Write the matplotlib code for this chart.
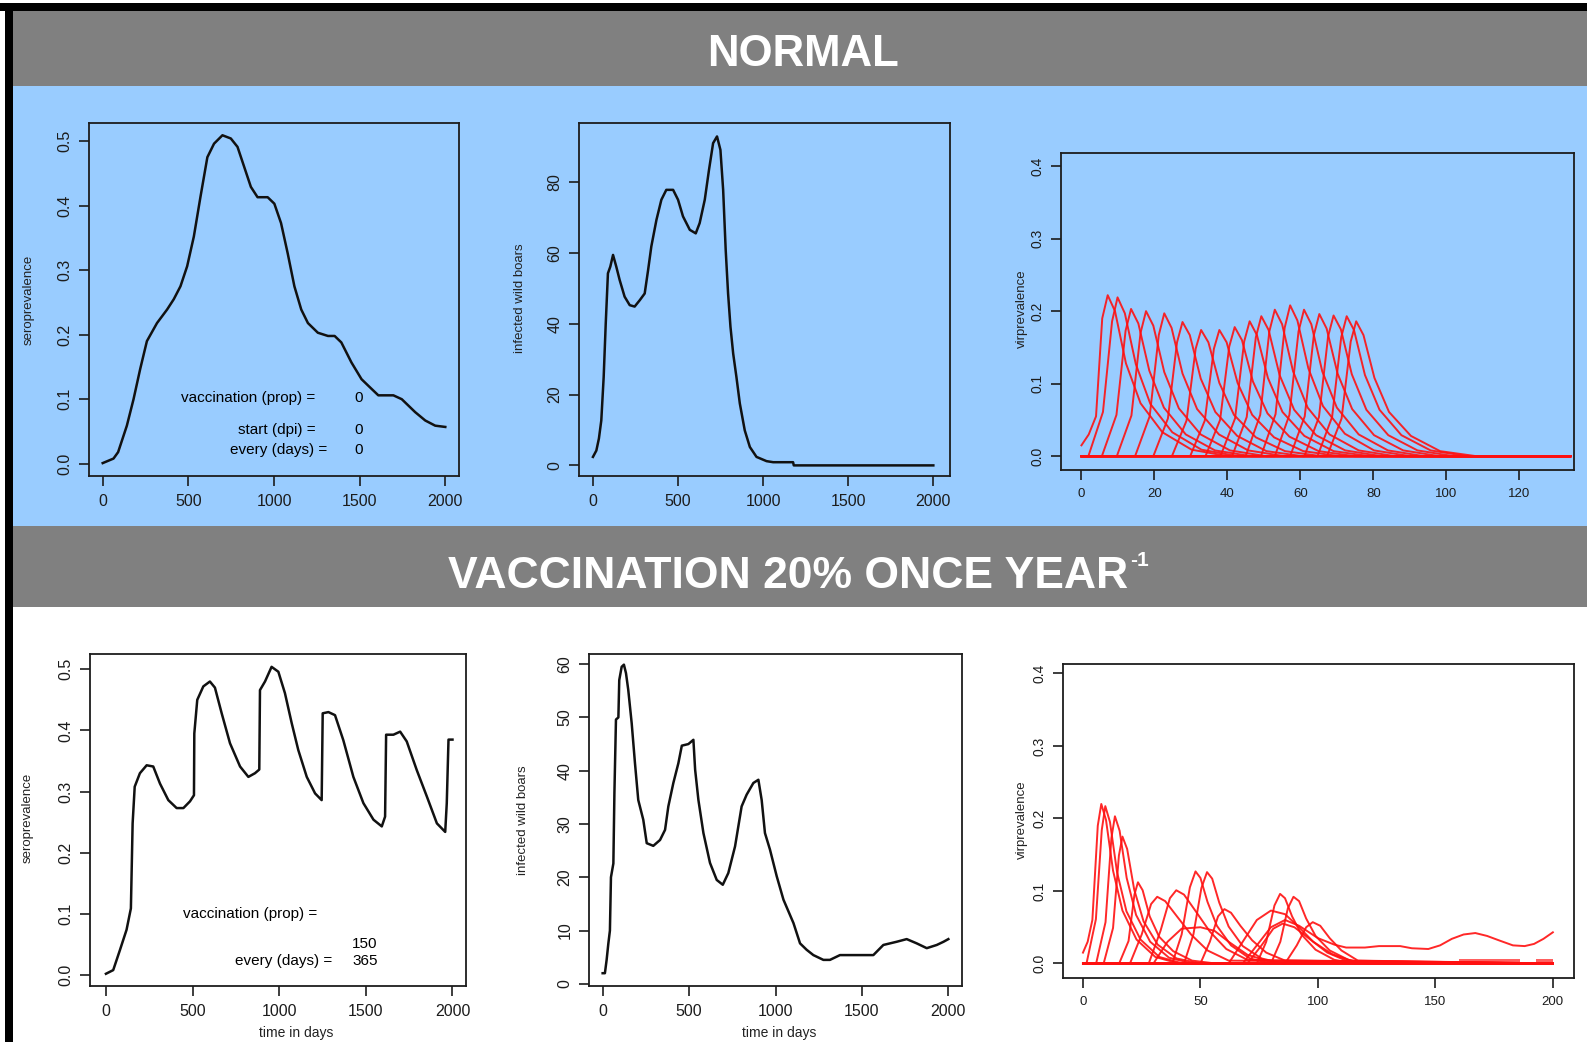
import matplotlib
matplotlib.use('Agg')
import matplotlib.pyplot as plt
from matplotlib.patches import Rectangle

plt.rcParams['font.family'] = ['Liberation Sans', 'DejaVu Sans']

# --- data ---

# NORMAL: seroprevalence
sero_normal_day = [0, 63, 90, 141, 180, 219, 258, 317, 376, 415, 454, 493, 532, 571, 611,
                   650, 699, 748, 787, 826, 865, 904, 963, 1002, 1041, 1080, 1119, 1159, 1198,
                   1256, 1315, 1354, 1393, 1452, 1511, 1550, 1609, 1697, 1746, 1824, 1883, 1941, 2000]
sero_normal_val = [0.001, 0.008, 0.018, 0.059, 0.10, 0.147, 0.19, 0.218, 0.239, 0.255, 0.275,
                   0.306, 0.352, 0.414, 0.475, 0.496, 0.509, 0.504, 0.491, 0.46, 0.429, 0.413,
                   0.413, 0.403, 0.373, 0.326, 0.275, 0.239, 0.218, 0.203, 0.198, 0.198, 0.188,
                   0.157, 0.131, 0.121, 0.106, 0.106, 0.10, 0.08, 0.067, 0.059, 0.057]

# NORMAL: infected wild boars
inf_normal_day = [0, 20, 35, 49, 63, 75, 88, 102, 118, 137, 157, 186, 216, 245, 275, 304, 324,
                  343, 373, 402, 431, 471, 500, 529, 569, 604, 627, 657, 682, 706, 729, 749,
                  765, 780, 794, 808, 824, 843, 863, 892, 922, 961, 1020, 1059, 1176, 1180, 2000]
inf_normal_val = [2.4, 4.2, 7.6, 12.7, 25, 40, 54.3, 56.2, 59.5, 56.2, 52.4, 47.7, 45.3, 44.9,
                  46.7, 48.6, 55.2, 61.9, 69.4, 75.1, 77.9, 77.9, 75.1, 70.4, 66.6, 65.6, 68.5,
                  75.1, 83.6, 91.1, 93, 89.2, 77.9, 60.9, 48.6, 39.2, 31.6, 25, 17.5, 9.9, 5.2,
                  2.4, 1.2, 0.9, 0.9, 0, 0]

# NORMAL: virprevalence, one run per list
vir_normal_x = [
    [0, 2, 4, 5.7, 7.2, 9.2, 12.2, 16.2, 22.2, 30.2, 40.2, 134],
    [0, 1.9, 5.9, 8.4, 9.9, 11.9, 14.9, 18.9, 24.9, 32.9, 42.9, 134],
    [0, 5.6, 9.6, 12.1, 13.6, 15.6, 18.6, 22.6, 28.6, 36.6, 46.6, 134],
    [0, 9.7, 13.7, 16.2, 17.7, 19.7, 22.7, 26.7, 32.7, 40.7, 50.7, 134],
    [0, 14.7, 18.7, 21.2, 22.7, 24.7, 27.7, 31.7, 37.7, 45.7, 55.7, 134],
    [0, 19.7, 23.7, 26.2, 27.7, 29.7, 32.7, 36.7, 42.7, 50.7, 60.7, 134],
    [0, 24.8, 28.8, 31.3, 32.8, 34.8, 37.8, 41.8, 47.8, 55.8, 65.8, 134],
    [0, 29.8, 33.8, 36.3, 37.8, 39.8, 42.8, 46.8, 52.8, 60.8, 70.8, 134],
    [0, 34, 38, 40.5, 42, 44, 47, 51, 57, 65, 75, 134],
    [0, 38.1, 42.1, 44.6, 46.1, 48.1, 51.1, 55.1, 61.1, 69.1, 79.1, 134],
    [0, 41.3, 45.3, 47.8, 49.3, 51.3, 54.3, 58.3, 64.3, 72.3, 82.3, 134],
    [0, 45, 49, 51.5, 53, 55, 58, 62, 68, 76, 86, 134],
    [0, 49.2, 53.2, 55.7, 57.2, 59.2, 62.2, 66.2, 72.2, 80.2, 90.2, 134],
    [0, 53, 57, 59.5, 61, 63, 66, 70, 76, 84, 94, 134],
    [0, 57.2, 61.2, 63.7, 65.2, 67.2, 70.2, 74.2, 80.2, 88.2, 98.2, 134],
    [0, 61.1, 65.1, 67.6, 69.1, 71.1, 74.1, 78.1, 84.1, 92.1, 102.1, 134],
    [0, 64.7, 68.7, 71.2, 72.7, 74.7, 77.7, 81.7, 87.7, 95.7, 105.7, 134],
    [0, 67.3, 71.3, 73.8, 75.3, 77.3, 80.3, 84.3, 90.3, 98.3, 108.3, 134],
]
vir_normal_y = [
    [0.015, 0.03, 0.055, 0.19, 0.222, 0.2, 0.128, 0.073, 0.033, 0.009, 0, 0],
    [0, 0, 0.061, 0.186, 0.219, 0.197, 0.127, 0.072, 0.033, 0.009, 0, 0],
    [0, 0, 0.057, 0.173, 0.203, 0.183, 0.118, 0.067, 0.030, 0.008, 0, 0],
    [0, 0, 0.056, 0.170, 0.200, 0.180, 0.116, 0.066, 0.030, 0.008, 0, 0],
    [0, 0, 0.055, 0.167, 0.197, 0.177, 0.114, 0.065, 0.030, 0.008, 0, 0],
    [0, 0, 0.052, 0.157, 0.185, 0.167, 0.107, 0.061, 0.028, 0.007, 0, 0],
    [0, 0, 0.049, 0.148, 0.174, 0.157, 0.101, 0.057, 0.026, 0.007, 0, 0],
    [0, 0, 0.049, 0.148, 0.174, 0.157, 0.101, 0.057, 0.026, 0.007, 0, 0],
    [0, 0, 0.050, 0.151, 0.178, 0.160, 0.103, 0.059, 0.027, 0.007, 0, 0],
    [0, 0, 0.052, 0.158, 0.186, 0.167, 0.108, 0.061, 0.028, 0.007, 0, 0],
    [0, 0, 0.054, 0.164, 0.193, 0.174, 0.112, 0.064, 0.029, 0.008, 0, 0],
    [0, 0, 0.057, 0.172, 0.202, 0.182, 0.117, 0.067, 0.030, 0.008, 0, 0],
    [0, 0, 0.058, 0.177, 0.208, 0.187, 0.121, 0.069, 0.031, 0.008, 0, 0],
    [0, 0, 0.057, 0.172, 0.202, 0.182, 0.117, 0.067, 0.030, 0.008, 0, 0],
    [0, 0, 0.055, 0.167, 0.196, 0.176, 0.114, 0.065, 0.029, 0.008, 0, 0],
    [0, 0, 0.054, 0.165, 0.194, 0.175, 0.113, 0.064, 0.029, 0.008, 0, 0],
    [0, 0, 0.054, 0.164, 0.193, 0.174, 0.112, 0.064, 0.029, 0.008, 0, 0],
    [0, 0, 0.052, 0.158, 0.186, 0.167, 0.108, 0.061, 0.028, 0.007, 0, 0],
]

# VACCINATION: seroprevalence
sero_vacc_day = [0, 42, 81, 119, 144, 154, 166, 196, 235, 273, 312, 360, 408, 447, 485, 508,
                 510, 527, 562, 600, 629, 668, 716, 774, 822, 860, 885, 889, 918, 956, 995,
                 1033, 1072, 1110, 1159, 1207, 1245, 1251, 1284, 1322, 1370, 1428, 1486, 1544,
                 1592, 1611, 1617, 1659, 1698, 1736, 1794, 1852, 1910, 1958, 1967, 1977, 2000]
sero_vacc_val = [0.002, 0.008, 0.041, 0.074, 0.109, 0.248, 0.308, 0.33, 0.343, 0.341, 0.313,
                 0.286, 0.273, 0.273, 0.284, 0.294, 0.395, 0.45, 0.472, 0.48, 0.47, 0.428,
                 0.379, 0.341, 0.324, 0.33, 0.336, 0.466, 0.48, 0.504, 0.496, 0.461, 0.412,
                 0.368, 0.324, 0.297, 0.286, 0.428, 0.43, 0.425, 0.384, 0.324, 0.281, 0.254,
                 0.243, 0.259, 0.393, 0.393, 0.398, 0.382, 0.335, 0.292, 0.248, 0.234, 0.281,
                 0.385, 0.385]

# VACCINATION: infected wild boars
inf_vacc_day = [0, 13, 23, 33, 42, 48, 62, 68, 77, 91, 96, 110, 123, 135, 148, 168, 187, 206,
                235, 255, 293, 332, 361, 380, 409, 438, 458, 496, 525, 535, 554, 583, 621, 660,
                695, 727, 766, 804, 833, 872, 901, 920, 939, 968, 1007, 1046, 1104, 1142, 1180,
                1219, 1277, 1315, 1373, 1566, 1624, 1701, 1759, 1817, 1875, 1933, 1972, 2000]
inf_vacc_val = [2, 2, 4.5, 7.6, 10, 20, 22.6, 35.8, 49.6, 50, 57, 59.5, 59.9, 58.3, 55.2, 48.9,
                41.4, 34.5, 30.8, 26.4, 25.9, 27, 28.9, 33.3, 37.7, 41.4, 44.7, 45, 45.8, 40.2,
                34.5, 28.3, 22.7, 19.5, 18.6, 20.8, 25.8, 33.3, 35.5, 37.7, 38.3, 34.5, 28.3,
                25.2, 20.2, 15.8, 11.4, 7.6, 6.4, 5.4, 4.5, 4.5, 5.4, 5.4, 7.3, 7.9, 8.4, 7.6,
                6.7, 7.3, 7.9, 8.4]

# VACCINATION: virprevalence runs
vir_vacc_x = [
    [0, 2, 4, 6.3, 7.8, 9.8, 12.8, 16.8, 22.8, 30.8, 40.8, 200],
    [0, 1.5, 5.5, 8, 9.5, 11.5, 14.5, 18.5, 24.5, 32.5, 42.5, 200],
    [0, 5.6, 9.6, 12.1, 13.6, 15.6, 18.6, 22.6, 28.6, 36.6, 46.6, 200],
    [0, 8.8, 12.8, 15.3, 16.8, 18.8, 21.8, 25.8, 31.8, 39.8, 49.8, 200],
    [0, 15.4, 19.4, 21.9, 23.4, 25.4, 28.4, 32.4, 38.4, 46.4, 56.4, 200],
    [0, 20, 25, 29, 31.6, 35, 40, 46, 53, 62, 200],
    [0, 28, 33, 37, 39.7, 43, 48, 54, 61, 70, 200],
    [0, 38, 42, 45.5, 47.9, 50, 53, 57, 63, 71, 80, 200],
    [0, 43, 47, 50.4, 52.8, 55, 58, 62, 68, 76, 85, 200],
    [0, 50, 54, 57.5, 60.2, 63, 67, 72, 78, 86, 200],
    [0, 30, 36, 42, 50, 56, 62, 70, 80, 200],
    [0, 62, 68, 74, 80, 86, 92, 98, 106, 115, 200],
    [0, 74, 78, 81.5, 83.9, 86, 89, 93, 99, 107, 116, 200],
    [0, 80, 84, 87.2, 89.6, 92, 95, 99, 105, 113, 122, 200],
    [0, 70, 76, 81, 85, 90, 96, 104, 112, 200],
    [0, 86, 91, 95, 97.8, 101, 105, 110, 117, 200],
    [0, 68, 74, 80, 86, 92, 100, 107, 112, 120, 126, 135, 140, 147, 152, 157, 162, 167,
     172, 177, 183, 188, 192, 196, 200],
]
vir_vacc_y = [
    [0.015, 0.03, 0.06, 0.19, 0.22, 0.198, 0.128, 0.073, 0.033, 0.009, 0, 0],
    [0, 0, 0.061, 0.184, 0.217, 0.195, 0.126, 0.072, 0.033, 0.009, 0, 0],
    [0, 0, 0.057, 0.173, 0.203, 0.183, 0.118, 0.067, 0.030, 0.008, 0, 0],
    [0, 0, 0.049, 0.149, 0.175, 0.158, 0.102, 0.058, 0.026, 0.007, 0, 0],
    [0, 0, 0.031, 0.095, 0.112, 0.101, 0.065, 0.037, 0.017, 0.004, 0, 0],
    [0, 0, 0.04, 0.082, 0.092, 0.086, 0.065, 0.04, 0.018, 0.004, 0],
    [0, 0, 0.045, 0.09, 0.101, 0.095, 0.072, 0.044, 0.02, 0.005, 0],
    [0, 0, 0.04, 0.105, 0.127, 0.118, 0.085, 0.052, 0.025, 0.007, 0, 0],
    [0, 0, 0.04, 0.104, 0.126, 0.117, 0.084, 0.051, 0.024, 0.007, 0, 0],
    [0, 0, 0.03, 0.065, 0.075, 0.07, 0.052, 0.032, 0.015, 0.004, 0],
    [0, 0, 0.03, 0.048, 0.05, 0.045, 0.03, 0.012, 0.002, 0],
    [0, 0, 0.03, 0.06, 0.073, 0.068, 0.05, 0.03, 0.013, 0.003, 0],
    [0, 0, 0.03, 0.08, 0.096, 0.09, 0.065, 0.04, 0.019, 0.005, 0, 0],
    [0, 0, 0.03, 0.076, 0.092, 0.086, 0.062, 0.038, 0.018, 0.005, 0, 0],
    [0, 0, 0.025, 0.048, 0.055, 0.05, 0.035, 0.015, 0.004, 0],
    [0, 0, 0.025, 0.05, 0.057, 0.052, 0.035, 0.018, 0.004, 0],
    [0, 0, 0.025, 0.05, 0.06, 0.052, 0.035, 0.026, 0.022, 0.022, 0.024, 0.024, 0.021, 0.02,
     0.025, 0.034, 0.04, 0.042, 0.038, 0.032, 0.025, 0.024, 0.027, 0.034, 0.043],
]
# low jitter band of runs still alive near the end
vir_band_x = [0, 160, 160, 186, 186, 193, 193, 200]
vir_band_y = [0, 0, 0.006, 0.006, 0.002, 0.002, 0.006, 0.006]

time_ticks = [0, 500, 1000, 1500, 2000]

W, H = 1587, 1042
BLUE = '#99ccff'
GREY = '#808080'


def px_box(x0, y0, x1, y1):
    return [x0 / W, 1 - y1 / H, (x1 - x0) / W, (y1 - y0) / H]


def r_style(ax, face):
    ax.set_facecolor(face)
    for s in ax.spines.values():
        s.set_linewidth(1.3)
        s.set_color('#1c1c1c')
    ax.tick_params(direction='out', length=7, width=1.2, colors='#1c1c1c', labelsize=11.5)
    ax.tick_params(axis='x', pad=6)
    ax.tick_params(axis='y', pad=5, labelrotation=90)
    for lab in ax.get_yticklabels():
        lab.set_va('center')


fig = plt.figure(figsize=(W / 100, H / 100), dpi=100)
fig.patch.set_facecolor('white')

# background bands and frame
fig.add_artist(Rectangle((13 / W, 1 - 86 / H), 1, 75 / H, transform=fig.transFigure,
                         facecolor=GREY, edgecolor='none', zorder=-10))
fig.add_artist(Rectangle((13 / W, 1 - 526 / H), 1, 440 / H, transform=fig.transFigure,
                         facecolor=BLUE, edgecolor='none', zorder=-10))
fig.add_artist(Rectangle((13 / W, 1 - 607 / H), 1, 81 / H, transform=fig.transFigure,
                         facecolor=GREY, edgecolor='none', zorder=-10))
fig.add_artist(Rectangle((0, 1 - 11 / H), 1, 8 / H, transform=fig.transFigure,
                         facecolor='black', edgecolor='none', zorder=-9))
fig.add_artist(Rectangle((5 / W, 0), 8 / W, 1 - 3 / H, transform=fig.transFigure,
                         facecolor='black', edgecolor='none', zorder=-9))

fig.text(803 / W, 1 - 55 / H, 'NORMAL', color='white', fontsize=31.5, fontweight='bold',
         ha='center', va='center')
fig.text(1128 / W, 1 - 577 / H, 'VACCINATION 20% ONCE YEAR', color='white',
         fontsize=32, fontweight='bold', ha='right', va='center')
fig.text(1130 / W, 1 - 561 / H, '-1', color='white', fontsize=15, fontweight='bold',
         ha='left', va='center')

# ---- top row (NORMAL) ----
ax1 = fig.add_axes(px_box(89, 123, 459, 476))
ax1.plot(sero_normal_day, sero_normal_val, color='#111111', lw=1.8)
ax1.set_xlim(-80, 2080)
ax1.set_ylim(-0.019, 0.528)
ax1.set_xticks(time_ticks)
ax1.set_yticks([0, 0.1, 0.2, 0.3, 0.4, 0.5])
ax1.set_yticklabels(['0.0', '0.1', '0.2', '0.3', '0.4', '0.5'])
r_style(ax1, BLUE)
ax1.text(0.612, 0.22, 'vaccination (prop) =', transform=ax1.transAxes, ha='right', va='center', fontsize=11)
ax1.text(0.729, 0.22, '0', transform=ax1.transAxes, ha='center', va='center', fontsize=11)
ax1.text(0.612, 0.13, 'start (dpi) =', transform=ax1.transAxes, ha='right', va='center', fontsize=11)
ax1.text(0.729, 0.13, '0', transform=ax1.transAxes, ha='center', va='center', fontsize=11)
ax1.text(0.645, 0.073, 'every (days) =', transform=ax1.transAxes, ha='right', va='center', fontsize=11)
ax1.text(0.729, 0.073, '0', transform=ax1.transAxes, ha='center', va='center', fontsize=11)

ax2 = fig.add_axes(px_box(579, 123, 950, 476))
ax2.plot(inf_normal_day, inf_normal_val, color='#111111', lw=1.8)
ax2.set_xlim(-82, 2098)
ax2.set_ylim(-3.0, 96.8)
ax2.set_xticks(time_ticks)
ax2.set_yticks([0, 20, 40, 60, 80])
r_style(ax2, BLUE)

ax3 = fig.add_axes(px_box(1061, 153, 1574, 470))
for xs, ys in zip(vir_normal_x, vir_normal_y):
    ax3.plot(xs, ys, color='#ff1010', lw=1.4, alpha=0.9)
ax3.set_xlim(-5.6, 135)
ax3.set_ylim(-0.019, 0.418)
ax3.set_xticks([0, 20, 40, 60, 80, 100, 120])
ax3.set_yticks([0, 0.1, 0.2, 0.3, 0.4])
ax3.set_yticklabels(['0.0', '0.1', '0.2', '0.3', '0.4'])
r_style(ax3, BLUE)
ax3.tick_params(axis='x', labelsize=9.5)
ax3.tick_params(axis='y', labelsize=10)

# ---- bottom row (VACCINATION) ----
ax4 = fig.add_axes(px_box(90, 654, 466, 986))
ax4.plot(sero_vacc_day, sero_vacc_val, color='#111111', lw=1.8)
ax4.set_xlim(-92, 2078)
ax4.set_ylim(-0.018, 0.525)
ax4.set_xticks(time_ticks)
ax4.set_yticks([0, 0.1, 0.2, 0.3, 0.4, 0.5])
ax4.set_yticklabels(['0.0', '0.1', '0.2', '0.3', '0.4', '0.5'])
r_style(ax4, 'white')
ax4.text(0.605, 0.216, 'vaccination (prop) =', transform=ax4.transAxes, ha='right', va='center', fontsize=11)
ax4.text(0.731, 0.126, '150', transform=ax4.transAxes, ha='center', va='center', fontsize=11)
ax4.text(0.645, 0.075, 'every (days) =', transform=ax4.transAxes, ha='right', va='center', fontsize=11)
ax4.text(0.731, 0.075, '365', transform=ax4.transAxes, ha='center', va='center', fontsize=11)

ax5 = fig.add_axes(px_box(589, 654, 962, 986))
ax5.plot(inf_vacc_day, inf_vacc_val, color='#111111', lw=1.8)
ax5.set_xlim(-79, 2079)
ax5.set_ylim(-0.4, 61.9)
ax5.set_xticks(time_ticks)
ax5.set_yticks([0, 10, 20, 30, 40, 50, 60])
r_style(ax5, 'white')

ax6 = fig.add_axes(px_box(1063, 664, 1574, 978))
ax6.fill_between(vir_band_x, 0, vir_band_y, color='#ff6060', lw=0)
for xs, ys in zip(vir_vacc_x, vir_vacc_y):
    ax6.plot(xs, ys, color='#ff1010', lw=1.4, alpha=0.9)
ax6.set_xlim(-8.5, 209)
ax6.set_ylim(-0.02, 0.413)
ax6.set_xticks([0, 50, 100, 150, 200])
ax6.set_yticks([0, 0.1, 0.2, 0.3, 0.4])
ax6.set_yticklabels(['0.0', '0.1', '0.2', '0.3', '0.4'])
r_style(ax6, 'white')
ax6.tick_params(axis='x', labelsize=9.5)
ax6.tick_params(axis='y', labelsize=10)

# axis titles (R style, small)
ylab = [(29, 300, 'seroprevalence'), (520, 298, 'infected wild boars'), (1022, 309, 'virprevalence'),
        (28, 818, 'seroprevalence'), (523, 820, 'infected wild boars'), (1022, 820, 'virprevalence')]
for x, y, t in ylab:
    fig.text(x / W, 1 - y / H, t, rotation=90, ha='center', va='center', fontsize=9.5, color='#222222')
for x in (296, 779):
    fig.text(x / W, 1 - 1040 / H, 'time in days', ha='center', va='bottom', fontsize=10, color='#222222')

plt.savefig('out.png', dpi=100)
